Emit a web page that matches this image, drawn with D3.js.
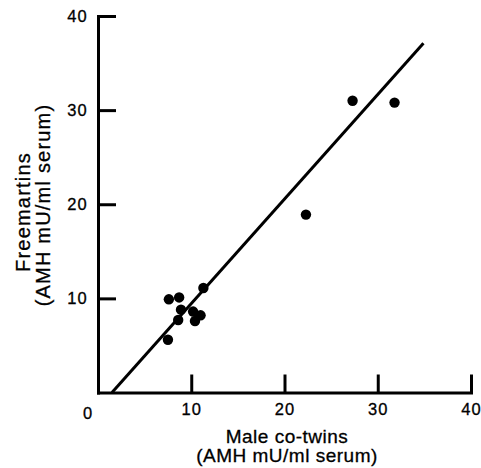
<!DOCTYPE html>
<html>
<head>
<meta charset="utf-8">
<script src="https://cdn.jsdelivr.net/npm/d3@7"></script>
<style>
  body { margin: 0; background: #fff; }
  svg { display: block; }
  text { font-family: "Liberation Sans", Arial, Helvetica, sans-serif; fill: #000; stroke: #000; stroke-width: 0.3px; }
</style>
</head>
<body>
<svg id="chart"></svg>
<script>
const width = 481
const height = 468

// male co-twin AMH vs freemartin AMH (mU/ml serum)
const maleCoTwins = [7.6, 8.7, 8.9, 8.6, 10.2, 11.0, 10.4, 11.3, 7.5, 22.3, 27.3, 31.8]
const freemartins = [9.9, 10.1, 8.8, 7.7, 8.6, 8.2, 7.6, 11.1, 5.6, 18.9, 31.0, 30.8]

// fitted regression line end points
const fitX = [1.5, 34.9]
const fitY = [0, 37.1]

const xTicks = [10, 20, 30, 40]
const yTicks = [10, 20, 30, 40]

const x = d3.scaleLinear().domain([0, 40]).range([98, 471])
const y = d3.scaleLinear().domain([0, 40]).range([392.5, 16])

const svg = d3.select('#chart')
    .attr('width', width)
    .attr('height', height);

// axes, ticks pointing inward
const xAxis = svg.append('g')
    .attr('transform', `translate(0,${y(0)})`)
    .call(d3.axisBottom(x).tickValues(xTicks).tickSizeInner(-18).tickSizeOuter(0).tickPadding(10.5));
const yAxis = svg.append('g')
    .attr('transform', `translate(${x(0)},0)`)
    .call(d3.axisLeft(y).tickValues(yTicks).tickSizeInner(-18).tickSizeOuter(0).tickPadding(10));

[xAxis, yAxis].forEach(ax => {
    ax.select('.domain').attr('stroke-width', 3).attr('stroke-linecap', 'square');
    ax.selectAll('.tick line').attr('stroke-width', 3);
    ax.selectAll('.tick text')
        .style('font-size', '16.5px')
        .style('letter-spacing', '1.2px');
});

// shared zero label at the origin
svg.append('text')
    .attr('x', x(0) - 10.5)
    .attr('y', y(0) + 26)
    .attr('text-anchor', 'middle')
    .style('font-size', '16.5px')
    .text('0');

// regression line
svg.append('path')
    .datum(d3.zip(fitX, fitY))
    .attr('d', d3.line().x(d => x(d[0])).y(d => y(d[1])))
    .attr('fill', 'none')
    .attr('stroke', '#000')
    .attr('stroke-width', 3);

// points
svg.append('g')
    .selectAll('circle')
    .data(d3.zip(maleCoTwins, freemartins))
    .enter()
    .append('circle')
    .attr('cx', d => x(d[0]))
    .attr('cy', d => y(d[1]))
    .attr('r', 5.2)
    .attr('fill', '#000');

// axis titles
const xTitle = svg.append('text')
    .attr('text-anchor', 'middle')
    .style('font-size', '19px')
    .style('letter-spacing', '0.5px');
xTitle.append('tspan').attr('x', 287).attr('y', 443).text('Male co-twins');
xTitle.append('tspan').attr('x', 287).attr('y', 462).text('(AMH mU/ml serum)');

const yTitle = svg.append('text')
    .attr('text-anchor', 'middle')
    .attr('transform', 'rotate(-90)')
    .style('font-size', '20px')
    .style('letter-spacing', '1.2px');
yTitle.append('tspan').attr('x', -212).attr('y', 30).text('Freemartins');
yTitle.append('tspan').attr('x', -205).attr('y', 50).text('(AMH mU/ml serum)');
</script>
</body>
</html>
